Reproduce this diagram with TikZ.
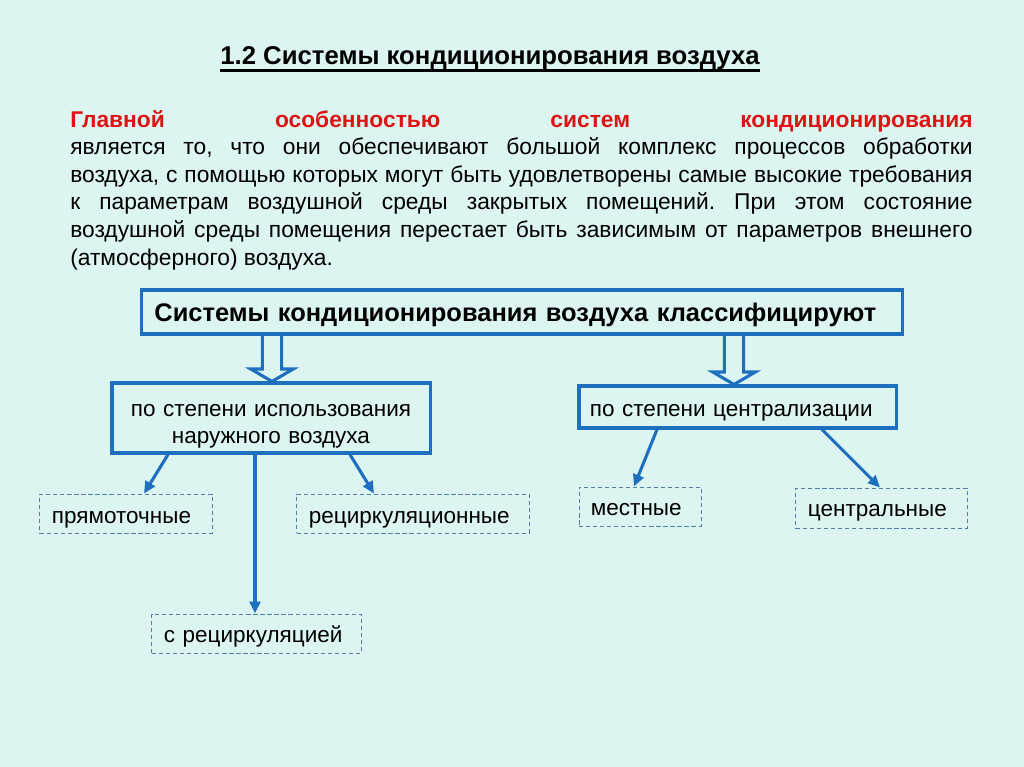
\documentclass[tikz,border=0pt]{standalone}
\usepackage{fontspec}
\setmainfont{Liberation Sans}
\usetikzlibrary{
    arrows.meta,
    calc,
    positioning
}
\definecolor{mint}{RGB}{221,245,240}
\definecolor{frameblue}{RGB}{31,111,191}
\definecolor{dashblue}{RGB}{85,125,165}
\definecolor{leadred}{RGB}{220,20,20}
\tikzset{
    titletext/.style={font=\bfseries\fontsize{18.3}{22}\selectfont, inner sep=0pt},
    para/.style={text width=22.55cm, align=justify, inner sep=0pt,
        font=\fontsize{16.2}{19.6}\selectfont},
    headbox/.style={draw=frameblue, line width=2.2pt, inner xsep=0.325cm, inner ysep=0pt,
        align=left, text height=0.5cm, text depth=0.05cm,
        font=\bfseries\fontsize{18.1}{22}\selectfont},
    classbox/.style={draw=frameblue, line width=2.2pt, inner sep=0pt,
        font=\fontsize{16}{19.2}\selectfont},
    leafbox/.style={draw=dashblue, line width=0.7pt, dash pattern=on 3pt off 2pt,
        inner xsep=0.3cm, inner ysep=0pt, align=left, minimum height=0.975cm,
        text height=0.45cm, text depth=0.025cm, font=\fontsize{16}{19}\selectfont},
    link/.style={-{Triangle[length=0.3cm, width=0.27cm]}, draw=frameblue, line width=2.2pt},
    hollow/.style={draw=frameblue, line width=2.2pt}
}

\begin{document}
\begin{tikzpicture}[x=0.025cm, y=-0.025cm]
    \fill[mint] (0,0) rectangle (1024,767);
    \useasboundingbox (0,0) rectangle (1024,767);

    % title and introduction
    \node[titletext, anchor=base] (title) at (490,65) {1.2 Системы кондиционирования воздуха};
    \draw[line width=2pt] ([yshift=-3.8pt]title.base west) -- ([yshift=-3.8pt]title.base east);
    \node[para, anchor=north west] (intro) at (70,110) {\hyphenpenalty=10000 \frenchspacing
        \textcolor{leadred}{\bfseries Главной\hfill особенностью\hfill систем\hfill кондиционирования}\linebreak
        является то, что они обеспечивают большой комплекс процессов обработки\linebreak
        воздуха, с помощью которых могут быть удовлетворены самые высокие требования\linebreak
        к параметрам воздушной среды закрытых помещений. При этом состояние\linebreak
        воздушной среды помещения перестает быть зависимым от параметров внешнего\linebreak
        (атмосферного) воздуха.};

    % classification
    \node[headbox, text width=18.375cm, minimum height=1.1cm] (main) at (522,312)
        {Системы кондиционирования воздуха классифицируют};
    \node[classbox, text width=7.95cm, align=center, minimum height=1.75cm,
        text height=0.3cm, text depth=0.375cm] (use) at (271,418)
        {по степени использования\\наружного воздуха};
    \node[classbox, inner xsep=0.275cm, text width=7.375cm, align=left, minimum height=1.05cm,
        text height=0.5cm, text depth=0.025cm] (cent) at (737.5,407)
        {по степени централизации};

    \node[leafbox, text width=3.7cm, text height=0.5cm] (direct) at (126,513.5) {прямоточные};
    \node[leafbox, text width=5.2cm, text height=0.5cm] (recirc) at (413,513.5) {рециркуляционные};
    \node[leafbox, text width=4.625cm] (mixed) at (256.5,633.5) {с рециркуляцией};
    \node[leafbox, text width=2.45cm] (local) at (640,506.5) {местные};
    \node[leafbox, text width=3.675cm, minimum height=1cm] (central) at (881.5,508) {центральные};

    % hollow arrows from the heading box
    \coordinate (lt) at ($(main.south)+(-250,0)$);
    \coordinate (rt) at ($(main.south)+(212,0)$);
    \coordinate (ltip) at (lt |- use.north);
    \coordinate (rtip) at (rt |- cent.north);
    \foreach \top/\tip in {lt/ltip, rt/rtip}{
        \draw[hollow] ([xshift=-0.24cm]\top) -- ([xshift=-0.24cm, yshift=0.31cm]\tip)
            -- ([xshift=-0.53cm, yshift=0.31cm]\tip) -- (\tip)
            -- ([xshift=0.53cm, yshift=0.31cm]\tip) -- ([xshift=0.24cm, yshift=0.31cm]\tip)
            -- ([xshift=0.24cm]\top);
    }

    \draw[link] ($(use.south)+(-103,0)$) -- ($(direct.north)+(18,0)$);
    \draw[link] ($(use.south)+(79,0)$) -- ($(recirc.north)+(-39,0)$);
    \draw[link] ($(use.south)+(-16,0)$) -- ($(mixed.north)+(-1.5,0)$);
    \draw[link] ($(cent.south)+(-80.5,0)$) -- ($(local.north)+(-6,0)$);
    \draw[link] ($(cent.south)+(84.5,0)$) -- ($(central.north)+(-1.5,0)$);
\end{tikzpicture}
\end{document}
